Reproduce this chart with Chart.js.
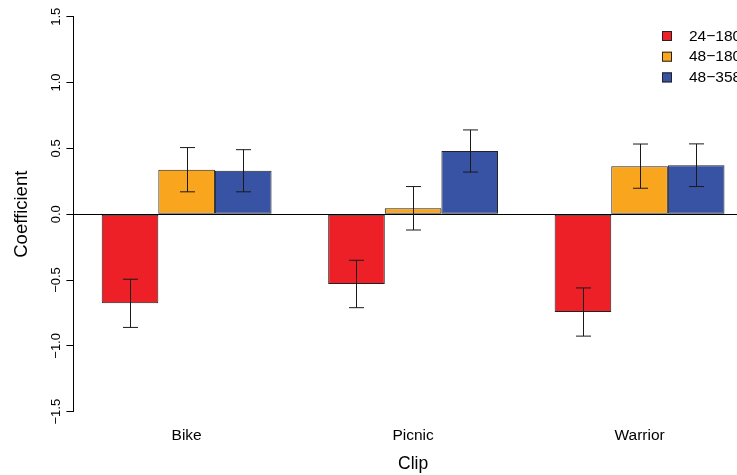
<!DOCTYPE html>
<html>
<head>
<meta charset="utf-8">
<script src="https://cdn.jsdelivr.net/npm/chart.js@4.4.1/dist/chart.umd.min.js"></script>
<style>
  html, body { margin: 0; padding: 0; background: #fff; overflow: hidden; }
  #wrap { width: 800px; height: 475px; }
</style>
</head>
<body>
<div id="wrap"><canvas id="c" width="800" height="475"></canvas></div>
<script>
// ---- data ----
const categories = ["Bike", "Picnic", "Warrior"];
const seriesLabels = ["24\u2212180", "48\u2212180", "48\u2212358"];
const values24_180 = [-0.677, -0.53, -0.743];
const values48_180 = [0.338, 0.045, 0.365];
const values48_358 = [0.33, 0.48, 0.372];
const err24_180 = [0.183, 0.18, 0.183];
const err48_180 = [0.168, 0.165, 0.168];
const err48_358 = [0.16, 0.16, 0.162];
const yTicks = [-1.5, -1.0, -0.5, 0.0, 0.5, 1.0, 1.5];

const colors = ["#ED1F27", "#F9A51D", "#3853A4"];
const FONT = "'Liberation Sans', Arial, Helvetica, sans-serif";

const errorBarPlugin = {
  id: 'errorBars',
  afterDatasetsDraw(chart) {
    const ctx = chart.ctx;
    const y = chart.scales.y;
    ctx.save();
    ctx.strokeStyle = '#1a1a1a';
    ctx.lineWidth = 1;
    chart.data.datasets.forEach((ds, i) => {
      const meta = chart.getDatasetMeta(i);
      meta.data.forEach((bar, j) => {
        const v = ds.data[j], e = ds.errors[j];
        const x = Math.round(bar.x) + 0.5;
        const yt = y.getPixelForValue(v + e);
        const yb = y.getPixelForValue(v - e);
        const cap = 7.5;
        ctx.beginPath();
        ctx.moveTo(x, yt); ctx.lineTo(x, yb);
        ctx.moveTo(x - cap, yt); ctx.lineTo(x + cap, yt);
        ctx.moveTo(x - cap, yb); ctx.lineTo(x + cap, yb);
        ctx.stroke();
      });
    });
    ctx.restore();
  }
};

const legendPlugin = {
  id: 'rLegend',
  afterDraw(chart) {
    const ctx = chart.ctx;
    ctx.save();
    ctx.font = "15.5px " + FONT;
    ctx.textBaseline = 'middle';
    ctx.textAlign = 'left';
    chart.data.datasets.forEach((ds, i) => {
      const cy = 36 + i * 20.7;
      ctx.fillStyle = ds.backgroundColor;
      ctx.fillRect(662, cy - 5, 10, 10);
      ctx.strokeStyle = '#222';
      ctx.lineWidth = 1;
      ctx.strokeRect(662.5, cy - 4.5, 9, 9);
      ctx.fillStyle = '#000';
      ctx.fillText(ds.label, 689, cy + 0.5);
    });
    ctx.restore();
  }
};

new Chart(document.getElementById('c'), {
  type: 'bar',
  data: {
    labels: categories,
    datasets: [
      { label: seriesLabels[0], data: values24_180, errors: err24_180, backgroundColor: colors[0] },
      { label: seriesLabels[1], data: values48_180, errors: err48_180, backgroundColor: colors[1] },
      { label: seriesLabels[2], data: values48_358, errors: err48_358, backgroundColor: colors[2] }
    ].map(d => Object.assign(d, { borderColor: '#222', borderWidth: 1, borderSkipped: false,
                                   categoryPercentage: 0.75, barPercentage: 1.0 }))
  },
  options: {
    responsive: false,
    animation: false,
    devicePixelRatio: 1,
    layout: { padding: { left: 0, right: 47.2, top: 16.7, bottom: 0 } },
    plugins: { legend: { display: false }, tooltip: { enabled: false } },
    scales: {
      x: {
        grid: { display: false, drawTicks: false },
        border: { display: false },
        ticks: { color: '#000', font: { family: FONT, size: 15.5 }, padding: 15 },
        title: { display: true, text: 'Clip', color: '#000', font: { family: FONT, size: 17.5 }, padding: { top: 0, bottom: 0 } },
        afterFit(s) { s.height = 63.3; }
      },
      y: {
        min: -1.5, max: 1.5,
        afterBuildTicks(s) { s.ticks = yTicks.map(v => ({ value: v })); },
        border: { display: true, color: '#000', width: 1 },
        grid: {
          drawOnChartArea: true,
          drawTicks: true,
          tickLength: 7,
          tickColor: '#000',
          lineWidth: 1,
          color: (c) => (c.tick && c.tick.value === 0) ? '#000' : 'rgba(0,0,0,0)'
        },
        ticks: {
          color: '#000',
          font: { family: FONT, size: 13 },
          minRotation: 90, maxRotation: 90,
          crossAlign: 'center',
          padding: -3,
          callback: (v) => Number(v).toFixed(1).replace('-', '\u2212')
        },
        title: { display: true, text: 'Coefficient', color: '#000', font: { family: FONT, size: 18.5 }, padding: { top: 11, bottom: 0 } },
        afterFit(s) { s.width = 73.4; }
      }
    }
  },
  plugins: [errorBarPlugin, legendPlugin]
});
</script>
</body>
</html>
